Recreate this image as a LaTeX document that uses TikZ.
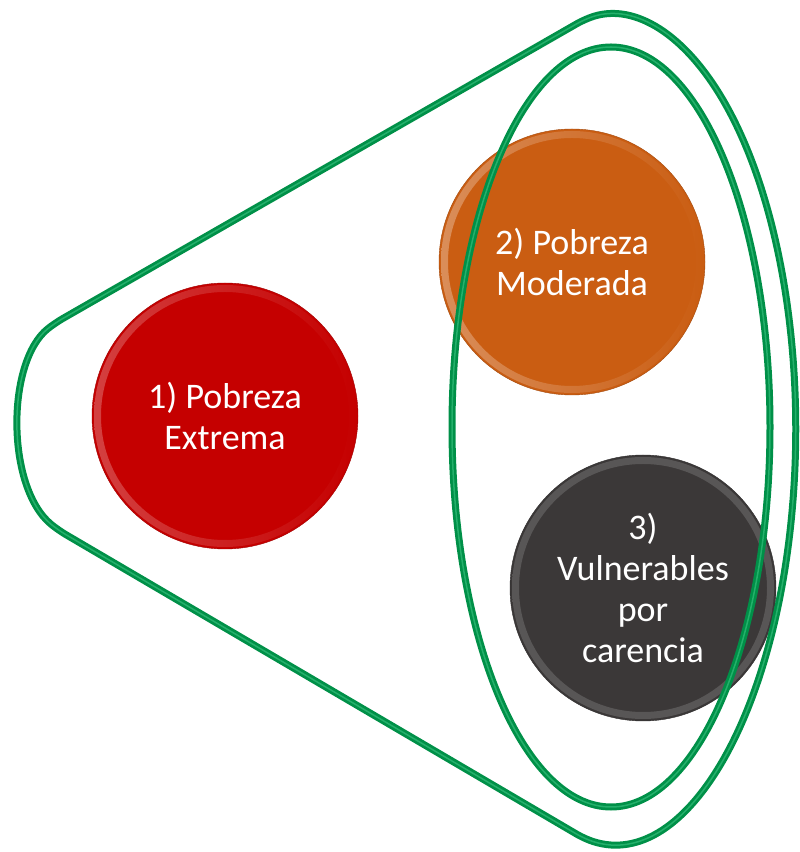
\documentclass[tikz,border=0pt]{standalone}
\usepackage{fontspec}
\setmainfont{Carlito}
\usepackage{tikz}
\usetikzlibrary{positioning}
\definecolor{pobrojo}{RGB}{197,0,0}
\definecolor{pobnaranja}{RGB}{202,93,18}
\definecolor{pobgris}{RGB}{59,56,56}
\definecolor{anillo}{RGB}{0,160,80}
\definecolor{anilloclaro}{RGB}{80,215,150}

\begin{document}
\begin{tikzpicture}[x=1pt,y=1pt,
    disco/.style={circle, minimum size=266pt, inner sep=0pt, text=white, align=center,
      font=\fontsize{36}{41}\selectfont},
    tubo/.style={line width=7pt, draw=anillo!90!black, rounded corners=9pt},
    brillo/.style={line width=1.5pt, draw=anilloclaro, draw opacity=.45, rounded corners=9pt}]
    \useasboundingbox (0,0) rectangle (800,852);
    \def\ra{131}\def\rb{124}
    \node[disco, fill=pobrojo, draw=pobrojo!80!black] (extrema) at (225,436) {1) Pobreza\\Extrema};
    \shade[even odd rule, left color=pobrojo!75!white, right color=pobrojo] (extrema.center) circle (\ra) circle (\rb);
    \node[disco, fill=pobnaranja, draw=pobnaranja!80!black] (moderada) at (572,590) {2) Pobreza\\Moderada};
    \shade[even odd rule, left color=pobnaranja!70!white, right color=pobnaranja] (moderada.center) circle (\ra) circle (\rb);
    \node[disco, fill=pobgris, draw=pobgris!80!black] (vulnerables) at (643,264) {3)\\Vulnerables\\por\\carencia};
    \shade[even odd rule, left color=pobgris!85!white, right color=pobgris!85!white] (vulnerables.center) circle (\ra) circle (\rb);
    \foreach \s in {tubo,brillo}{
      \draw[\s] (55,529) .. controls (6,490) and (6,365) .. (58,322) -- (585,13)
        arc[start angle=-98, end angle=98, x radius=185, y radius=414] -- cycle;
      \draw[\s] (611,425) ellipse [x radius=159, y radius=380];
    }
\end{tikzpicture}
\end{document}
